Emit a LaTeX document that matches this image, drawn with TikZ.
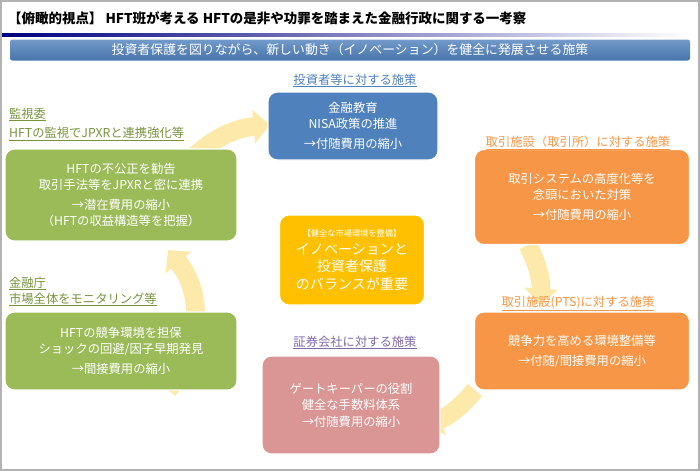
\documentclass[tikz,border=0pt]{standalone}
\usepackage{fontspec}
\setmainfont{Noto Sans CJK JP}
\usetikzlibrary{arrows.meta,shadings}
\definecolor{measblue}{HTML}{4F81BD}
\definecolor{measgreen}{HTML}{9BBB59}
\definecolor{measorange}{HTML}{F79646}
\definecolor{measpink}{HTML}{D99694}
\definecolor{measgold}{HTML}{FFC000}
\definecolor{ringyellow}{HTML}{FDE9A9}
\definecolor{labgreen}{HTML}{77933C}
\definecolor{labpurple}{HTML}{7F6AA6}

\begin{document}
\begin{tikzpicture}[x=0.03cm,y=-0.03cm,
  measure box/.style={rectangle,rounded corners=8pt,draw=white,line width=1pt,
    text=white,align=center,font=\fontsize{10.5}{14}\selectfont},
  head label/.style={anchor=base,font=\fontsize{10.5}{12}\selectfont},
  ring/.style={line width=16pt,draw=ringyellow,-{Triangle[length=14pt,width=28pt]}}]

  \useasboundingbox (0,0) rectangle (700,471);
  \draw[gray!60,line width=1.5pt] (1,1) rectangle (699,470);

  % title and banner
  \node[anchor=west,font=\bfseries\fontsize{11.5}{13}\selectfont] (title) at (4,18)
    {【俯瞰的視点】 HFT班が考える\ HFTの是非や功罪を踏まえた金融行政に関する一考察};
  \shade[left color=blue!50!black,right color=white] (2,33) rectangle (690,36);
  \node[rectangle,rounded corners=2pt,top color=measblue!80,bottom color=measblue!90!black,
    text=white,minimum width=680*0.03cm,minimum height=21*0.03cm,
    font=\fontsize{11}{13}\selectfont] (banner) at (350,50)
    {投資者保護を図りながら、新しい動き（イノベーション）を健全に発展させる施策};

  % ring of arrows
  \draw[ring] (185,165) to[bend left=20] (270,125);
  \draw[ring] (528,245) to[bend left=15] (540,305);
  \draw[ring] (475,390) to[bend left=15] (425,425);
  \draw[ring] (168,390) to[bend left=-40] (168,250);

  % measure boxes
  \node[measure box,fill=measblue,minimum width=170*0.03cm,minimum height=68*0.03cm] (inv) at (353,126)
    {金融教育\\NISA政策の推進\\[3pt]→付随費用の縮小};
  \node[measure box,fill=measgreen,minimum width=232*0.03cm,minimum height=92*0.03cm] (sesc) at (121,195)
    {HFTの不公正を勧告\\取引手法等をJPXRと密に連携\\[3pt]→潜在費用の縮小\\（HFTの収益構造等を把握）};
  \node[measure box,fill=measorange,minimum width=215*0.03cm,minimum height=95*0.03cm] (exch) at (582,197)
    {取引システムの高度化等を\\念頭においた対策\\[3pt]→付随費用の縮小};
  \node[measure box,fill=measgold,minimum width=145*0.03cm,minimum height=90*0.03cm,
    font=\fontsize{12}{15}\selectfont] (core) at (352,260)
    {{\fontsize{7}{9}\selectfont【健全な市場環境を整備】}\\イノベーションと\\投資者保護\\のバランスが重要};
  \node[measure box,fill=measgreen,minimum width=232*0.03cm,minimum height=78*0.03cm] (fsa) at (121,351)
    {HFTの競争環境を担保\\ショックの回避/因子早期発見\\[3pt]→間接費用の縮小};
  \node[measure box,fill=measorange,minimum width=215*0.03cm,minimum height=78*0.03cm] (pts) at (582,351)
    {競争力を高める環境整備等\\[3pt]→付随/間接費用の縮小};
  \node[measure box,fill=measpink,minimum width=178*0.03cm,minimum height=98*0.03cm] (brok) at (351,405)
    {ゲートキーパーの役割\\健全な手数料体系\\→付随費用の縮小};

  % headings
  \node[head label,text=measblue] (invlab) at (355,84) {\underline{投資者等に対する施策}};
  \node[head label,text=measorange] (exchlab) at (578,146) {\underline{取引施設（取引所）に対する施策}};
  \node[head label,text=labgreen,anchor=base west] (sesclab) at (5,118) {\underline{監視委}};
  \node[head label,text=labgreen,anchor=base west] (sesclab2) at (5,137)
    {\underline{HFTの監視でJPXRと連携強化等}};
  \node[head label,text=labgreen,anchor=base west] (fsalab) at (5,287) {\underline{金融庁}};
  \node[head label,text=labgreen,anchor=base west] (fsalab2) at (5,303)
    {\underline{市場全体をモニタリング等}};
  \node[head label,text=measorange] (ptslab) at (578,306) {\underline{取引施設(PTS)に対する施策}};
  \node[head label,text=labpurple] (broklab) at (355,346) {\underline{証券会社に対する施策}};
\end{tikzpicture}
\end{document}
